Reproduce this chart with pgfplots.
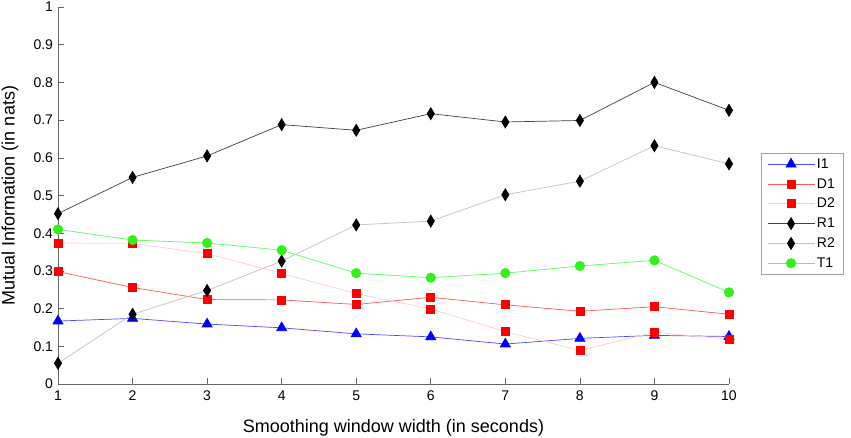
\documentclass[border=0pt]{standalone}
\usepackage{pgfplots}
\pgfplotsset{compat=1.18}
\usepackage{fontspec}
\setmainfont{Liberation Sans}
\definecolor{iline}{rgb}{0.3,0.3,1}
\definecolor{dline}{rgb}{1,0.35,0.35}
\definecolor{dtwoline}{rgb}{1,0.8,0.8}
\definecolor{rline}{rgb}{0.25,0.25,0.25}
\definecolor{rtwoline}{rgb}{0.76,0.76,0.76}
\definecolor{tline}{rgb}{0.35,1,0.35}
\definecolor{tmark}{rgb}{0.2,0.95,0.1}
\definecolor{axgray}{rgb}{0.4,0.4,0.4}
\begin{document}
\begin{tikzpicture}
\useasboundingbox (-58pt,-53pt) rectangle (793pt,384pt);
\begin{axis}[
  scale only axis, width=671pt, height=377pt,
  xmin=1, xmax=10, ymin=0, ymax=1,
  xtick={1,...,10},
  ytick={0,0.1,0.2,0.3,0.4,0.5,0.6,0.7,0.8,0.9,1},
  yticklabels={0,0.1,0.2,0.3,0.4,0.5,0.6,0.7,0.8,0.9,1},
  axis x line=bottom, axis y line=left,
  axis line style={-, axgray, line width=0.8pt},
  tick style={axgray, line width=0.6pt},
  tick align=inside, major tick length=6pt,
  /pgf/number format/assume math mode=true,
  ticklabel style={font=\fontsize{14}{16}\selectfont},
  xticklabel style={yshift=-3pt},
  yticklabel style={xshift=-1.5pt},
  label style={font=\fontsize{18}{21}\selectfont},
  xlabel={Smoothing window width (in seconds)},
  ylabel={Mutual Information (in nats)},
  xlabel style={at={(rel axis cs:0.5,0)}, anchor=center, yshift=-44pt},
  ylabel style={at={(rel axis cs:0,0.5)}, anchor=center, yshift=48pt},
  legend style={at={(rel axis cs:1.0477,0.6127)}, anchor=north west,
    draw=axgray!60, font=\fontsize{14}{16}\selectfont,
    nodes={inner sep=2pt, text height=11pt, text depth=3pt},
    row sep=1.8pt, inner xsep=6pt, inner ysep=2pt},
  legend image code/.code={%
    \draw[mark repeat=2, mark phase=2] plot coordinates {(0pt,0pt) (23.5pt,0pt) (47pt,0pt)};},
  legend cell align=left,
]
\addplot[iline, line width=0.7pt, mark=triangle*, mark size=5.8pt, mark options={fill=blue, draw=blue, solid}] coordinates {
(1,0.167) (2,0.174) (3,0.159) (4,0.149) (5,0.133) (6,0.125) (7,0.106) (8,0.121) (9,0.129) (10,0.126)};
\addlegendentry{I1}
\addplot[dline, line width=0.7pt, mark=square*, mark size=4pt, mark options={fill=red, draw=red}] coordinates {
(1,0.298) (2,0.256) (3,0.224) (4,0.223) (5,0.211) (6,0.230) (7,0.210) (8,0.193) (9,0.205) (10,0.185)};
\addlegendentry{D1}
\addplot[dtwoline, line width=0.7pt, mark=square*, mark size=4pt, mark options={fill=red, draw=red}] coordinates {
(1,0.374) (2,0.373) (3,0.346) (4,0.293) (5,0.240) (6,0.199) (7,0.139) (8,0.089) (9,0.137) (10,0.119)};
\addlegendentry{D2}
\addplot[rline, line width=0.7pt, mark=diamond*, mark size=6pt, mark options={fill=black, draw=black, xscale=0.8}] coordinates {
(1,0.452) (2,0.548) (3,0.605) (4,0.688) (5,0.673) (6,0.717) (7,0.695) (8,0.699) (9,0.800) (10,0.726)};
\addlegendentry{R1}
\addplot[rtwoline, line width=0.7pt, mark=diamond*, mark size=6pt, mark options={fill=black, draw=black, xscale=0.8}] coordinates {
(1,0.055) (2,0.185) (3,0.248) (4,0.326) (5,0.422) (6,0.432) (7,0.502) (8,0.538) (9,0.632) (10,0.584)};
\addlegendentry{R2}
\addplot[tline, line width=0.7pt, mark=*, mark size=4.7pt, mark options={fill=tmark, draw=tmark}] coordinates {
(1,0.410) (2,0.382) (3,0.374) (4,0.355) (5,0.294) (6,0.282) (7,0.294) (8,0.313) (9,0.328) (10,0.243)};
\addlegendentry{T1}
\end{axis}
\end{tikzpicture}
\end{document}
